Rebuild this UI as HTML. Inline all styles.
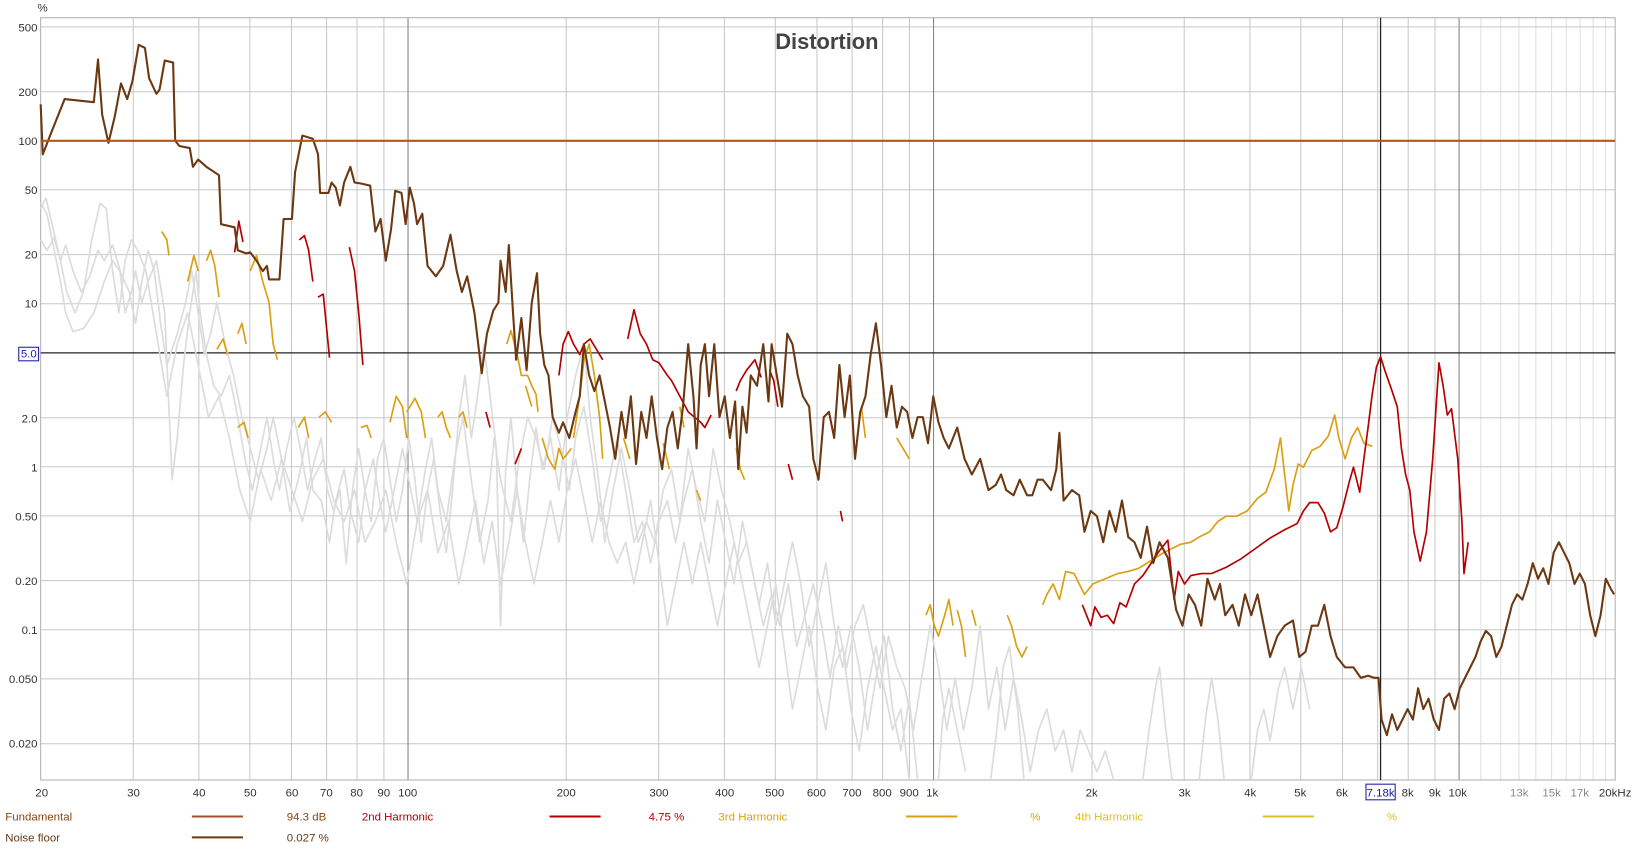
<!DOCTYPE html>
<html><head><meta charset="utf-8"><style>
html,body{margin:0;padding:0;background:#fff;}
svg{display:block;}
text{font-family:"Liberation Sans","DejaVu Sans",sans-serif;}
</style></head><body>
<svg width="1635" height="853" viewBox="0 0 1568 818" preserveAspectRatio="none" xmlns="http://www.w3.org/2000/svg">
<rect width="1568" height="818" fill="#fff"/>
<g stroke="#c8c8c8" stroke-width="1" fill="none">
<path d="M127.8 17V748M190.7 17V748M239.6 17V748M279.5 17V748M313.2 17V748M342.4 17V748M368.2 17V748M543 17V748M631.7 17V748M694.7 17V748M743.5 17V748M783.5 17V748M817.2 17V748M846.5 17V748M872.2 17V748M1047.3 17V748M1135.7 17V748M1198.7 17V748M1247.5 17V748M1287.5 17V748M1321.2 17V748M1350.5 17V748M1376.2 17V748"/>
<path stroke="#e0e0e0" d="M1420.2 17V748M1439.2 17V748M1456.7 17V748M1472.9 17V748M1488 17V748M1502.1 17V748M1515.4 17V748M1527.9 17V748M1539.8 17V748"/>
<path d="M39 25.8H1549M39 88H1549M39 182H1549M39 244.2H1549M39 291.3H1549M39 400.6H1549M39 447.6H1549M39 494.7H1549M39 556.8H1549M39 603.9H1549M39 651H1549M39 713.2H1549"/>
</g>
<g stroke="#808080" stroke-width="1"><path d="M391.3 17V748M895.3 17V748M1399.3 17V748"/></g>
<rect x="39" y="17" width="1510" height="731" fill="none" stroke="#b0b0b0"/>
<line x1="39" y1="338.4" x2="1549" y2="338.4" stroke="#222" stroke-width="1.2"/>
<line x1="1324" y1="17" x2="1324" y2="748" stroke="#222" stroke-width="1.2"/>
<text x="793" y="47" font-size="21" font-weight="bold" fill="#444" text-anchor="middle">Distortion</text>
<g fill="none" stroke-width="1.6" stroke-linejoin="round">
<path stroke="#dcdcdc" d="M39 195L45 205L52 240L58 270L63 300L70 318L80 315L90 300L100 270L108 250L115 260L120 300L126 280L130 260L136 290L142 270L150 250L158 300L165 460L170 420L176 350L182 300L188 260L192 300L198 340L205 370L212 380L220 360L228 400L235 440L242 470L250 430L256 400L262 440L268 470L275 430L282 400L288 430L295 470L302 440L308 420L314 470L320 490L326 470L332 540L338 470L344 430L350 470L356 500L362 440L368 420L374 460L380 500L386 470L392 420L398 460L404 520L410 470L416 440L422 490L428 530L434 470L440 400L446 360L452 420L458 380L464 330L470 380L476 430L480 600L485 450L490 400L496 470L502 520L508 460L514 410L520 450L528 420L536 470L544 400L552 360L560 330L566 400L574 460L580 520L588 470L596 430L604 470L612 520L620 500L628 520L636 470L644 450L652 500L660 430L668 470L676 500L684 430L692 470L700 500L708 540L716 520L724 560L732 600L740 570L748 600L756 560L764 620L772 590L780 560L788 600L796 650L804 600L812 640L820 600L828 580L836 620L844 660L852 610L860 640L868 660L876 700L884 650L892 600L900 640L908 700L916 650L924 700L932 660L940 600L948 680L956 640L964 700L972 650L980 690L988 740L996 700L1004 680L1012 720L1020 700L1028 740L1036 700L1044 720L1052 740L1060 720L1068 748"/>
<path stroke="#dcdcdc" d="M39 230L45 240L52 228L58 250L63 235L70 260L78 280L86 265L94 240L100 250L108 235L116 262L124 280L130 310L136 270L142 240L148 260L154 310L160 350L170 320L178 290L184 260L190 300L196 340L202 320L208 290L216 330L224 360L232 400L240 430L248 460L256 430L262 400L270 440L278 490L286 460L294 420L300 470L308 480L316 520L322 480L330 450L336 490L344 520L350 470L358 440L364 480L370 510L378 470L386 430L394 470L400 500L408 450L414 420L420 470L428 500L436 440L444 400L452 460L460 520L468 480L474 420L480 460L490 500L498 440L506 400L514 420L522 450L530 400L538 430L546 470L552 420L560 390L568 440L576 500L584 460L592 420L600 470L608 520L616 500L624 540L632 500L640 480L648 520L656 480L664 450L672 500L680 540L688 480L696 520L704 560L712 500L720 540L728 580L736 540L744 600L752 560L760 520L768 560L776 620L784 580L792 540L800 600L808 640L816 600L824 640L832 700L840 650L848 610L856 680L864 720L872 670L880 748M900 748L904 690L910 660L918 700L926 740M950 748L956 700L962 640L968 620L976 680L982 748M1096 748L1102 700L1108 660L1112 640L1118 700L1124 748M1150 748L1156 690L1162 650L1168 690L1174 748"/>
<path stroke="#dcdcdc" d="M39 200L44 190L50 215L58 250L64 280L72 300L80 280L88 230L96 195L102 200L108 260L114 300L120 250L126 230L132 240L140 260L150 320L160 380L170 330L180 300L190 350L200 400L210 380L220 420L230 470L240 500L250 450L260 480L270 440L280 470L290 500L300 460L310 440L320 480L330 500L340 470L350 520L360 500L370 470L380 520L390 560L400 500L410 470L420 530L430 500L440 560L448 520L456 480L464 540L472 500L480 560L488 520L496 470L504 520L512 560L520 520L528 480L536 520L544 470L552 440L560 480L568 520L576 480L584 520L592 540L600 520L608 560L616 520L624 480L632 540L640 600L648 560L656 520L664 560L672 520L680 560L688 600L696 560L704 520L712 560L720 600L728 640L736 600L744 560L752 620L760 680L768 640L776 600L784 660L792 700L800 640L808 620L816 680L824 720L832 660L840 620L848 660L856 700L864 680L872 748M1200 748L1206 700L1212 680L1218 710L1226 660L1232 640L1240 680L1248 640L1256 680"/>
<path stroke="#d9a012" d="M155 222L160 230L162 245M180 270L186 245L190 260M198 250L202 240L206 255L210 285M208 335L214 325L218 340M228 320L232 310L236 330M240 260L246 245L252 270L258 290L262 330L266 345M228 410L234 405L238 420M286 410L292 400L296 420M306 400L312 395L318 405M346 410L352 408L356 420M374 405L380 380L386 390L390 420M390 395L398 382L404 395L408 420M420 400L424 395L428 410L432 420M440 400L444 395L448 410M486 330L490 317L496 340L500 360L506 360L510 370L514 378L516 395M504 370L510 390M520 420L526 440L532 450L536 430L540 440L544 435L548 430M550 420L556 380L560 345L565 330L570 360L575 400L578 440M598 420L604 440M636 425L642 450M652 390L656 410M668 470L672 480M706 430L710 450L714 460M826 390L830 420M860 420L866 430L872 440M888 590L892 580L896 600L900 610L906 590L910 575L914 600M918 585L922 600L926 630M932 585L936 600M966 590L970 600L975 620L980 630L985 620M1000 580L1004 570L1010 560L1016 575L1022 548L1030 550L1040 570L1048 560L1060 555L1072 550L1082 548L1092 545L1100 540L1108 535L1116 530L1124 526L1132 522L1142 520L1150 515L1160 510L1168 500L1176 495L1186 495L1196 490L1206 478L1214 472L1222 450L1228 420L1232 455L1236 490L1240 465L1245 445L1250 448L1258 432L1266 428L1274 418L1280 398L1284 420L1290 440L1296 420L1302 410L1308 425L1316 428"/>
<path stroke="#b50000" d="M225 242L229 212L233 232M287 230L292 226L296 240L300 270M305 285L310 282L316 343M335 237L340 260L344 300L348 350M466 395L470 410M494 445L500 430M536 360L540 330L545 318L550 330L556 340L560 330L566 325L572 335L578 345M602 325L608 297L614 320L620 330L626 345L632 348L640 360L644 365L652 380L660 395L666 400L672 405L676 410L682 398M706 375L710 365L716 355L724 345L730 362M738 355L742 365L746 390M756 445L760 460M806 490L808 500M1038 580L1042 590L1046 600L1050 582L1056 592L1062 590L1068 598L1074 578L1080 582L1088 560L1096 552L1104 540L1112 528L1120 518L1126 575L1130 548L1136 560L1142 552L1152 550L1162 550L1176 544L1190 536L1204 526L1218 516L1232 508L1244 502L1250 490L1256 482L1264 482L1270 492L1276 510L1282 506L1288 486L1294 462L1298 448L1304 472L1308 440L1312 410L1316 378L1320 352L1324 342L1328 355L1334 372L1340 390L1344 430L1348 455L1352 470L1356 510L1362 538L1368 510L1374 440L1380 348L1384 370L1388 398L1392 392L1398 440L1402 500L1404 550L1408 520"/>
<path stroke="#6b3812" stroke-width="2" d="M39 100L41 148L50 125L62 95L90 98L94 57L98 110L104 137L110 112L116 80L122 95L127 78L133 43L139 46L143 75L150 90L153 86L158 58L166 60L168 135L172 140L182 142L185 160L190 153L198 160L210 168L212 215L225 218L228 240L236 243L240 242L246 250L252 260L256 255L258 268L268 268L272 210L280 210L283 165L290 130L300 133L305 148L307 185L315 185L318 175L322 180L326 197L330 175L336 160L340 175L346 176L355 178L360 222L365 210L370 250L375 220L379 183L385 185L389 215L393 180L397 195L400 215L405 205L410 255L418 265L425 255L432 225L438 260L443 280L448 265L455 300L462 358L467 320L473 298L478 290L480 250L485 280L488 235L492 300L495 345L500 305L505 355L510 290L515 262L518 320L522 350L526 360L530 400L536 415L540 405L546 420L552 395L556 380L560 330L565 360L570 375L575 360L580 385L585 410L590 440L596 395L600 420L605 380L610 445L615 395L620 420L625 380L630 420L635 450L640 410L645 395L650 430L655 390L660 330L665 380L668 430L672 350L676 330L680 380L685 330L690 400L695 380L700 420L705 385L708 450L712 390L716 415L720 360L726 370L732 330L737 385L740 330L745 360L750 390L755 320L760 330L765 360L770 380L776 390L780 440L785 460L790 400L795 395L800 420L805 350L810 400L815 360L820 440L825 395L830 380L835 340L840 310L845 350L850 400L855 370L860 410L865 390L870 395L875 420L880 400L885 400L890 425L895 380L900 405L905 420L910 430L918 410L925 440L932 455L940 440L948 470L955 465L960 455L965 470L972 475L978 460L985 475L990 475L995 460L1000 460L1008 470L1013 450L1016 415L1020 480L1028 470L1035 475L1040 510L1046 490L1052 495L1058 520L1064 490L1070 510L1076 480L1082 515L1088 520L1094 535L1100 505L1106 540L1112 520L1120 535L1128 585L1134 600L1140 570L1146 580L1152 600L1158 555L1165 575L1170 560L1175 590L1182 580L1188 600L1194 570L1200 590L1206 570L1212 600L1218 630L1225 610L1232 600L1240 595L1246 630L1252 625L1258 600L1264 600L1270 580L1276 610L1282 630L1290 640L1298 640L1305 650L1312 648L1318 650L1322 650L1325 690L1330 705L1335 685L1340 700L1345 690L1350 680L1355 690L1360 660L1365 680L1370 670L1375 690L1380 700L1385 670L1390 665L1395 680L1400 660L1405 650L1410 640L1415 630L1420 615L1425 605L1430 610L1435 630L1440 620L1445 600L1450 580L1455 570L1460 575L1465 560L1470 540L1475 555L1480 545L1485 560L1490 530L1495 520L1500 530L1505 540L1510 560L1515 550L1520 560L1525 590L1530 610L1535 590L1540 555L1545 565L1548 570"/>
</g>
<line x1="39" y1="135" x2="1549" y2="135" stroke="#b5561a" stroke-width="2"/>
<g font-size="11" fill="#333" text-anchor="end">
<text x="36" y="11" text-anchor="start" x2="0">%</text>
<text x="36" y="30">500</text><text x="36" y="92">200</text><text x="36" y="139">100</text><text x="36" y="186">50</text><text x="36" y="248">20</text><text x="36" y="295">10</text>
<text x="36" y="405">2.0</text><text x="36" y="452">1</text><text x="36" y="499">0.50</text><text x="36" y="561">0.20</text><text x="36" y="608">0.1</text><text x="36" y="655">0.050</text><text x="36" y="717">0.020</text>
</g>
<rect x="18" y="333" width="19" height="13" fill="#fff" stroke="#1a1aa8"/>
<text x="20" y="343" font-size="11" fill="#1a1aa8">5.0</text>
<g font-size="11" fill="#333" text-anchor="middle">
<text x="40" y="764">20</text><text x="128" y="764">30</text><text x="191" y="764">40</text><text x="240" y="764">50</text><text x="280" y="764">60</text><text x="313" y="764">70</text><text x="342" y="764">80</text><text x="368" y="764">90</text><text x="391" y="764">100</text><text x="543" y="764">200</text><text x="632" y="764">300</text><text x="695" y="764">400</text><text x="743" y="764">500</text><text x="783" y="764">600</text><text x="817" y="764">700</text><text x="846" y="764">800</text><text x="872" y="764">900</text><text x="894" y="764">1k</text><text x="1047" y="764">2k</text><text x="1136" y="764">3k</text><text x="1199" y="764">4k</text><text x="1247" y="764">5k</text><text x="1287" y="764">6k</text><text x="1350" y="764">8k</text><text x="1376" y="764">9k</text><text x="1398" y="764">10k</text>
<text x="1457" y="764" fill="#888">13k</text><text x="1488" y="764" fill="#888">15k</text><text x="1515" y="764" fill="#888">17k</text><text x="1549" y="764">20kHz</text>
</g>
<rect x="1310" y="752" width="28" height="15" fill="#fff" stroke="#1a1aa8"/>
<text x="1324" y="764" font-size="11" fill="#1a1aa8" text-anchor="middle">7.18k</text>
<g font-size="11">
<text x="5" y="787" fill="#8b4513">Fundamental</text>
<line x1="184" y1="783" x2="233" y2="783" stroke="#a0522d" stroke-width="2"/>
<text x="275" y="787" fill="#8b4513">94.3 dB</text>
<text x="347" y="787" fill="#b00000">2nd Harmonic</text>
<line x1="527" y1="783" x2="576" y2="783" stroke="#b50000" stroke-width="2"/>
<text x="622" y="787" fill="#b00000">4.75 %</text>
<text x="689" y="787" fill="#d9a012">3rd Harmonic</text>
<line x1="869" y1="783" x2="918" y2="783" stroke="#d9a012" stroke-width="2"/>
<text x="988" y="787" fill="#d9a012">%</text>
<text x="1031" y="787" fill="#e0c020">4th Harmonic</text>
<line x1="1211" y1="783" x2="1260" y2="783" stroke="#e0c020" stroke-width="2"/>
<text x="1330" y="787" fill="#e0c020">%</text>
<text x="5" y="807" fill="#6b3812">Noise floor</text>
<line x1="184" y1="803" x2="233" y2="803" stroke="#6b3812" stroke-width="2"/>
<text x="275" y="807" fill="#6b3812">0.027 %</text>
</g>
</svg>
</body></html>
